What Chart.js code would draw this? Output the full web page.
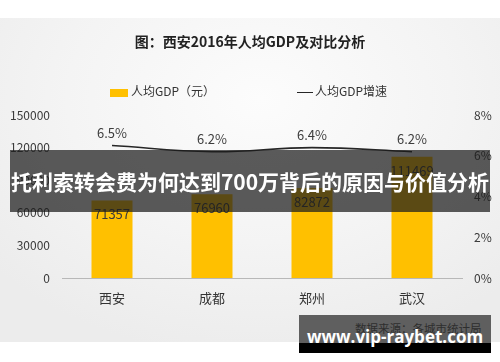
<!DOCTYPE html>
<html>
<head>
<meta charset="utf-8">
<script src="https://cdn.jsdelivr.net/npm/chart.js@4.4.1/dist/chart.umd.min.js"></script>
<style>
  html, body { margin: 0; padding: 0; background: #ffffff; }
  #wrap { position: relative; width: 500px; height: 362px; overflow: hidden; background: #ffffff; }
  #bg { position: absolute; left: 0; top: 18px; width: 500px; height: 324px;
        background: radial-gradient(ellipse 70% 80% at 52% 25%, #fcfcfc 0%, #f4f4f4 55%, #ececec 100%); }
  canvas { position: absolute; left: 0; top: 0; }
  #legend { position: absolute; top: 82px; left: 0; width: 500px; height: 18px;
            font-family: "Noto Sans CJK SC", "Noto Sans", sans-serif; font-size: 12px; color: #333; }
  .lg { position: absolute; top: 0; height: 18px; line-height: 18px; white-space: nowrap; }
  .lg .sw { display: inline-block; vertical-align: middle; margin-right: 3px; }
  #banner { position: absolute; left: 10px; top: 150px; width: 480px; height: 62px;
            background: rgba(28,28,28,0.72); color: #ffffff;
            font-family: "Noto Sans CJK SC", sans-serif; font-weight: bold; font-size: 21px;
            line-height: 62px; text-align: center; white-space: nowrap; }
  #wm1 { position: absolute; left: 299px; top: 315px; width: 192px; height: 28px; background: #5f5f5f; }
  #wm2 { position: absolute; left: 299px; top: 343px; width: 192px; height: 10px; background: #000000; }
  #src { position: absolute; left: 355px; top: 320px; font-family: "Noto Sans CJK SC", sans-serif;
         font-size: 11.5px; color: #2e2e2e; white-space: nowrap; line-height: 16px; }
  #wmt { position: absolute; left: 299px; top: 326px; width: 192px; text-align: center;
         font-family: "Open Sans", "DejaVu Sans", sans-serif; font-weight: bold; font-size: 17px;
         color: #ffffff; line-height: 22px; white-space: nowrap; }
</style>
</head>
<body>
<div id="wrap">
  <div id="bg"></div>
  <canvas id="c" width="500" height="362"></canvas>
  <div id="legend"></div>
  <div id="banner">托利索转会费为何达到700万背后的原因与价值分析</div>
  <div id="wm1"></div>
  <div id="wm2"></div>
  <div id="src">数据来源：各城市统计局</div>
  <div id="wmt">www.vip-raybet.com</div>
</div>
<script>
// ---- data ----
const chartTitle = "图：西安2016年人均GDP及对比分析";
const categories = ["西安", "成都", "郑州", "武汉"];
const gdpLabel = "人均GDP（元）";
const gdpValues = [71357, 76960, 82872, 111469];
const growthLabel = "人均GDP增速";
const growthValues = [6.5, 6.2, 6.4, 6.2];
const leftTicks = [0, 30000, 60000, 90000, 120000, 150000];
const rightTicks = [0, 2, 4, 6, 8];

const FONT = '"Noto Sans CJK SC", "Noto Sans", sans-serif';
const BAR_COLOR = '#FFC000';
const LINE_COLOR = '#262626';

const valueLabels = {
  id: 'valueLabels',
  afterDatasetsDraw(chart) {
    const ctx = chart.ctx;
    ctx.save();
    ctx.textAlign = 'center';
    ctx.textBaseline = 'middle';
    chart.data.datasets.forEach((ds, i) => {
      const meta = chart.getDatasetMeta(i);
      meta.data.forEach((el, j) => {
        const v = ds.data[j];
        if (ds.type === 'bar') {
          ctx.font = '13px ' + FONT;
          ctx.fillStyle = '#3b3b3b';
          ctx.fillText(String(v), el.x, el.y + 14);
        } else {
          ctx.font = '13px ' + FONT;
          ctx.fillStyle = '#3d3d3d';
          ctx.fillText(v.toFixed(1) + '%', el.x, el.y - 13);
        }
      });
    });
    ctx.restore();
  }
};

const chart = new Chart(document.getElementById('c'), {
  data: {
    labels: categories,
    datasets: [
      { type: 'line', label: growthLabel, data: growthValues, yAxisID: 'y1',
        borderColor: LINE_COLOR, backgroundColor: LINE_COLOR, borderWidth: 1.6,
        pointRadius: 0, tension: 0.4, order: 0 },
      { type: 'bar', label: gdpLabel, data: gdpValues, yAxisID: 'y',
        backgroundColor: BAR_COLOR, borderWidth: 0,
        categoryPercentage: 1, barPercentage: 0.41, order: 1 }
    ]
  },
  options: {
    responsive: false,
    animation: false,
    layout: { padding: 0 },
    plugins: {
      legend: { display: false },
      tooltip: { enabled: false },
      title: { display: true, text: chartTitle, color: '#222',
               font: { family: FONT, size: 14, weight: 'bold', lineHeight: 1.2 },
               padding: { top: 33, bottom: 65.2 } }
    },
    scales: {
      x: {
        grid: { display: false, drawTicks: false },
        border: { display: true, color: '#b8b8b8', width: 1 },
        ticks: { color: '#333', font: { family: FONT, size: 13 }, padding: 12 },
        afterFit(s) { s.height = 84; }
      },
      y: {
        position: 'left', min: leftTicks[0], max: leftTicks[leftTicks.length - 1],
        grid: { display: false, drawTicks: false },
        border: { display: false },
        afterBuildTicks(s) { s.ticks = leftTicks.map(v => ({ value: v })); },
        ticks: { color: '#3a3a3a', font: { family: FONT, size: 12 }, padding: 12,
                 callback: v => String(v) },
        afterFit(s) { s.width = 62; }
      },
      y1: {
        position: 'right', min: rightTicks[0], max: rightTicks[rightTicks.length - 1],
        grid: { display: false, drawTicks: false },
        border: { display: false },
        afterBuildTicks(s) { s.ticks = rightTicks.map(v => ({ value: v })); },
        ticks: { color: '#3a3a3a', font: { family: FONT, size: 12 }, padding: 12,
                 callback: v => v + '%' },
        afterFit(s) { s.width = 38; }
      }
    }
  },
  plugins: [valueLabels]
});

// HTML legend built from the chart's datasets
(function buildLegend() {
  const lg = document.getElementById('legend');
  const bar = chart.data.datasets[1];
  const line = chart.data.datasets[0];
  const a = document.createElement('div');
  a.className = 'lg'; a.style.left = '110px';
  a.innerHTML = '<span class="sw" style="width:18px;height:8px;background:' + bar.backgroundColor + '"></span>' + bar.label;
  const b = document.createElement('div');
  b.className = 'lg'; b.style.left = '297px';
  b.innerHTML = '<span class="sw" style="width:16px;height:0;border-top:1.6px solid ' + line.borderColor + ';margin-right:2px"></span>' + line.label;
  lg.appendChild(a); lg.appendChild(b);
})();
</script>
</body>
</html>
